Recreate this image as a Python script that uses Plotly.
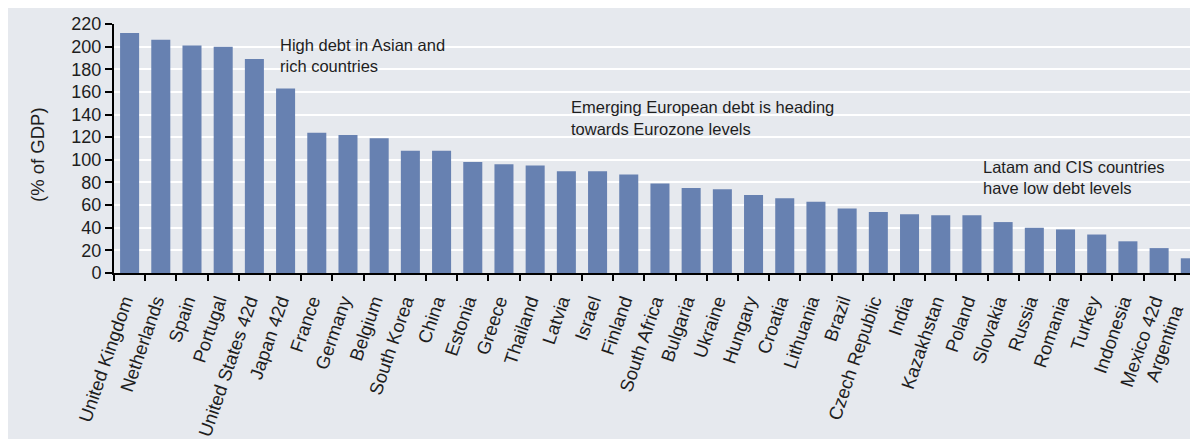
import plotly.graph_objects as go

# Household + corporate + government debt, % of GDP
countries = [
    "United Kingdom", "Netherlands", "Spain", "Portugal", "United States 42d",
    "Japan 42d", "France", "Germany", "Belgium", "South Korea", "China",
    "Estonia", "Greece", "Thailand", "Latvia", "Israel", "Finland",
    "South Africa", "Bulgaria", "Ukraine", "Hungary", "Croatia", "Lithuania",
    "Brazil", "Czech Republic", "India", "Kazakhstan", "Poland", "Slovakia",
    "Russia", "Romania", "Turkey", "Indonesia", "Mexico 42d", "Argentina",
]
debt_pct_gdp = [
    212, 206, 201, 200, 189,
    163, 124, 122, 119, 108, 108,
    98, 96, 95, 90, 90, 87,
    79, 75, 74, 69, 66, 63,
    57, 54, 52, 51, 51, 45,
    40, 38.5, 34, 28, 22, 13,
]
y_ticks = list(range(0, 221, 20))

BAR = "#6781B1"
PANEL = "#E6E9EE"
TXT = "#1E1E1E"
FONT = "Liberation Sans, Arial, sans-serif"

W, H = 1190, 439
ML, MR, MT, MB = 114, 0, 24, 166
PW, PH = W - ML - MR, H - MT - MB
LABEL_ANGLE = -71
LABEL_SIZE = 18.5


def px_x(px):
    return (px - ML) / PW


def px_y(py):
    return 1 - (py - MT) / PH


fig = go.Figure(
    go.Bar(
        x=countries,
        y=debt_pct_gdp,
        marker=dict(color=BAR, line=dict(width=0)),
        width=0.61,
    )
)

# grey panel behind the chart, leaving a thin white border top and left
fig.add_shape(
    type="rect", xref="paper", yref="paper", layer="below",
    x0=px_x(8), x1=1.01, y0=px_y(H + 2), y1=px_y(8),
    fillcolor=PANEL, line=dict(width=0),
)

notes = [
    (278, 45, "High debt in Asian and"),
    (278, 66, "rich countries"),
    (569, 107, "Emerging European debt is heading"),
    (569, 129, "towards Eurozone levels"),
    (981, 167, "Latam and CIS countries"),
    (981, 188, "have low debt levels"),
]
for px, py, txt in notes:
    fig.add_annotation(
        x=px_x(px), y=px_y(py), xref="paper", yref="paper",
        text=txt, showarrow=False, xanchor="left", yanchor="middle",
        font=dict(family=FONT, size=16.5, color=TXT),
    )

# last category sits on the right edge; its label is placed by hand
fig.add_annotation(
    x=1.0, y=px_y(300), xref="paper", yref="paper",
    text=countries[-1], showarrow=False, textangle=LABEL_ANGLE,
    xanchor="right", yanchor="top",
    font=dict(family=FONT, size=LABEL_SIZE, color=TXT),
)

# y-axis title
fig.add_annotation(
    x=px_x(37), y=px_y(155), xref="paper", yref="paper",
    text="(% of GDP)", showarrow=False, textangle=-90,
    xanchor="center", yanchor="middle",
    font=dict(family=FONT, size=18.5, color=TXT),
)

fig.update_layout(
    width=W, height=H,
    margin=dict(l=ML, r=MR, t=MT, b=MB, pad=0, autoexpand=False),
    paper_bgcolor="white",
    plot_bgcolor=PANEL,
    showlegend=False,
    font=dict(family=FONT, color=TXT),
)
fig.update_xaxes(
    type="category",
    automargin=False,
    range=[-0.5, 33.99],
    tickson="boundaries",
    ticks="outside", ticklen=6, tickwidth=1.5, tickcolor="black",
    showline=True, linecolor="black", linewidth=2,
    showgrid=False,
    tickangle=LABEL_ANGLE,
    ticklabelstandoff=8,
    ticklabelshift=-5,
    tickfont=dict(family=FONT, size=LABEL_SIZE, color=TXT),
)
fig.update_yaxes(
    automargin=False,
    range=[0, 220],
    tickvals=y_ticks,
    ticks="outside", ticklen=7, tickwidth=1.5, tickcolor="black",
    showline=True, linecolor="black", linewidth=2,
    showgrid=True, gridcolor="white", gridwidth=2,
    zeroline=False,
    tickfont=dict(family=FONT, size=18, color=TXT),
)

fig.write_html("out.html")
